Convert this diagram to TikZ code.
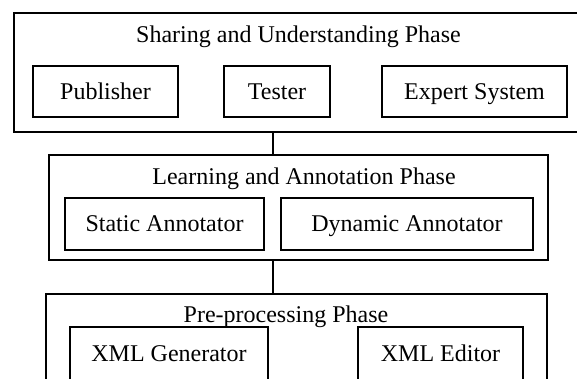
\documentclass[tikz,border=0pt]{standalone}
\usepackage{fontspec}
\setmainfont{Liberation Serif}
\usepackage{tikz}

\begin{document}
\begin{tikzpicture}[x=1pt, y=-1pt, every node/.style={font=\fontsize{24}{28}\selectfont},
	phase/.style={draw, line width=1.3pt, inner sep=0pt},
	unit/.style={draw, line width=1.2pt, inner sep=0pt, text height=17pt, text depth=2pt}]
	\useasboundingbox (0,0) rectangle (577,378);
	% the three phases
	\node[phase, minimum width=568pt, minimum height=119pt] (share) at (298,72.5) {};
	\node[phase, minimum width=499pt, minimum height=105pt] (learn) at (298.5,207.5) {};
	\node[phase, minimum width=501pt, minimum height=130pt] (prep) at (296.5,359) {};
	\node[anchor=base] (shareTitle) at (298.5,42) {Sharing and Understanding Phase};
	\node[anchor=base] (learnTitle) at (304,184) {Learning and Annotation Phase};
	\node[anchor=base] (prepTitle) at (286,322) {Pre-processing Phase};
	% components
	\foreach \nm/\x/\y/\w/\h/\txt in {pub/105.5/91.5/145/51/Publisher, tester/277/91.5/106/51/Tester,
		expert/474.5/91.5/185/51/Expert System, static/164.5/224/199/52/Static Annotator,
		dynamic/407/224/252/52/Dynamic Annotator, xmlgen/169/353.5/198/53/XML Generator,
		xmled/440.5/353.5/165/53/XML Editor} {
		\node[unit, minimum width=\w pt, minimum height=\h pt] (\nm) at (\x,\y) {\txt};
	}
	% links between phases
	\coordinate (link) at (273,0);
	\draw[line width=1.2pt] (share.south -| link) -- (learn.north -| link);
	\draw[line width=1.2pt] (learn.south -| link) -- (prep.north -| link);
\end{tikzpicture}
\end{document}
